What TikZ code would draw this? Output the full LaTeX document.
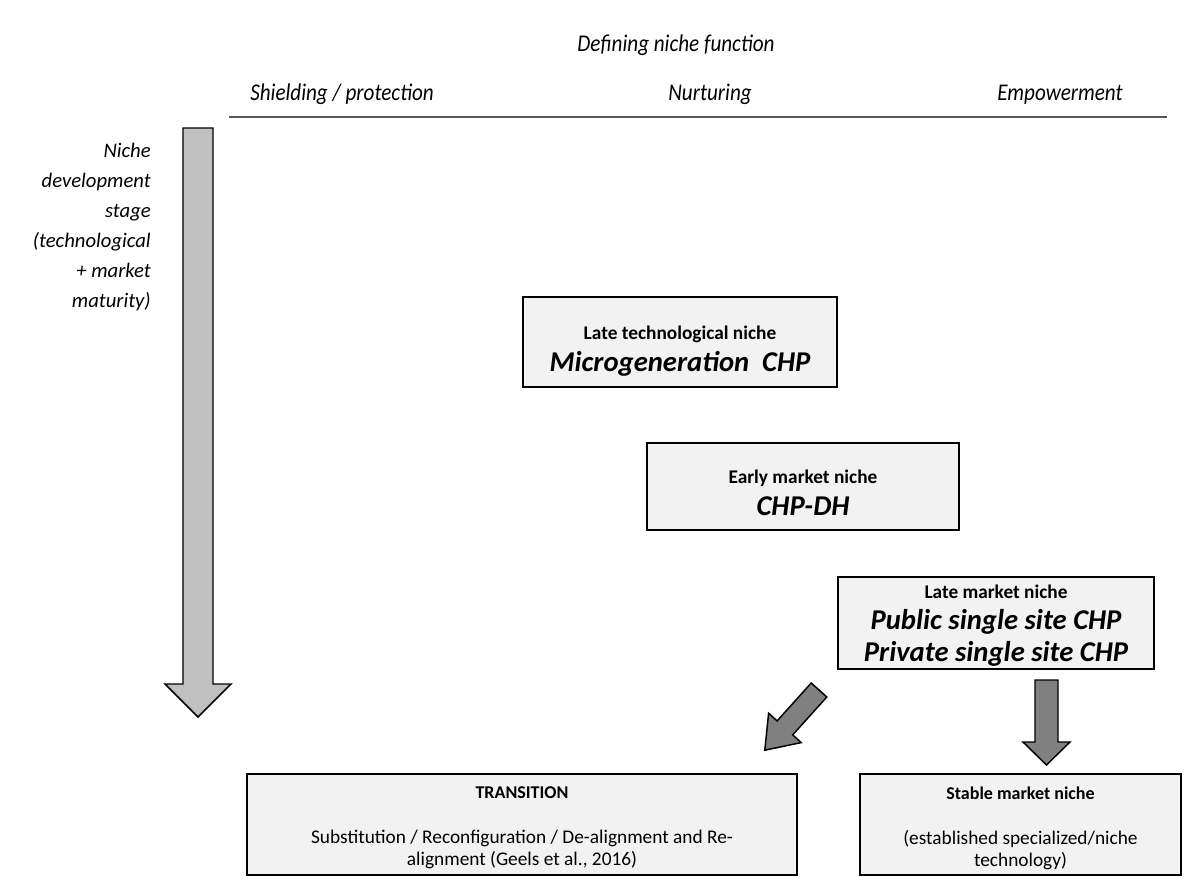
\documentclass[tikz,border=0pt]{standalone}
\usepackage{fontspec}
\setmainfont{Carlito}
\newfontfamily\headfont[FakeStretch=0.88]{Carlito}
\definecolor{boxfill}{HTML}{F2F2F2}
\definecolor{lightarrow}{HTML}{C0C0C0}
\definecolor{darkarrow}{HTML}{808080}
\definecolor{rulegray}{HTML}{595959}
\newcommand{\smalltag}[1]{{\fontsize{14.5}{17}\selectfont\bfseries #1}}
\newcommand{\bigtag}[1]{{\fontsize{21.5}{24}\selectfont\bfseries\itshape #1}}
\newcommand{\topstrut}{\rule{0pt}{20pt}}
\tikzset{
  nichebox/.style={draw=black, line width=1.3pt, fill=boxfill, align=center, inner sep=0pt, text depth=0pt},
  heading/.style={font=\headfont\fontsize{18}{21}\selectfont\itshape, inner sep=0pt, anchor=base},
  blockarrow/.style={draw=black, line width=1.1pt, line join=miter},
  outcometext/.style={anchor=north, align=center, inner sep=0pt, font=\fontsize{14.5}{16}\selectfont}
}
\begin{document}
\begin{tikzpicture}[x=0.75pt, y=-0.75pt]
\useasboundingbox (0,0) rectangle (1196,877);

% column headings
\node[heading] (deffun) at (676,52) {Defining niche function};
\node[heading] (shield) at (342,101) {Shielding / protection};
\node[heading] (nurt) at (710,101) {Nurturing};
\node[heading] (empow) at (1060,101) {Empowerment};
\coordinate (ruleL) at (229,117);
\coordinate (ruleR) at (1167,117);
\draw[rulegray, line width=1.1pt] (ruleL) -- (ruleR);

% row heading
\node[inner sep=0pt, anchor=north east, align=right, font=\fontsize{15.5}{22.5}\selectfont\itshape]
  (stage) at (151,143) {Niche\\development\\stage\\(technological\\+ market\\maturity)};

% development-stage arrow
\draw[blockarrow, fill=lightarrow]
  (183,128) -- (213,128) -- (213,684) -- (231,684) -- (198,717) -- (165,684) -- (183,684) -- cycle;

% niche boxes
\node[nichebox, minimum width=314*0.75pt, minimum height=90*0.75pt,
      font=\fontsize{21.5}{24}\selectfont] (late tech) at (680,342)
  {\topstrut\smalltag{Late technological niche}\\
   \bigtag{Microgeneration~~CHP}};
\node[nichebox, minimum width=312*0.75pt, minimum height=87*0.75pt,
      font=\fontsize{21.5}{24}\selectfont] (early market) at (803,486.5)
  {\topstrut\smalltag{Early market niche}\\
   \bigtag{CHP-DH}};
\node[nichebox, minimum width=316*0.75pt, minimum height=92*0.75pt,
      font=\fontsize{21.5}{23.5}\selectfont] (late market) at (996,623)
  {\smalltag{Late market niche}\\
   \bigtag{Public single site CHP}\\
   \bigtag{Private single site CHP}};

% outcome boxes
\node[nichebox, minimum width=550*0.75pt, minimum height=101*0.75pt] (transition) at (522,824.5) {};
\node[outcometext] (transtext) at ([yshift=-10pt]transition.north)
  {\textbf{\fontsize{13.5}{16}\selectfont TRANSITION}\\[18pt]
   Substitution / Reconfiguration / De-alignment and Re-\\
   alignment (Geels et al., 2016)};
\node[nichebox, minimum width=321*0.75pt, minimum height=101*0.75pt] (stable) at (1020.5,824.5) {};
\node[outcometext] (stabletext) at ([yshift=-10pt]stable.north)
  {\textbf{\fontsize{13.5}{16}\selectfont Stable market niche}\\[18pt]
   (established specialized/niche\\
   technology)};

% outcome arrows
\draw[blockarrow, fill=darkarrow]
  (826.8,697.0) -- (811.2,683.0) -- (777.1,720.9) -- (768.6,713.2) -- (764.8,750.2)
  -- (801.2,742.6) -- (792.7,734.9) -- cycle;
\draw[blockarrow, fill=darkarrow]
  (1035,680) -- (1058,680) -- (1058,742) -- (1070,742) -- (1046.5,765) -- (1023,742) -- (1035,742) -- cycle;
\end{tikzpicture}
\end{document}
